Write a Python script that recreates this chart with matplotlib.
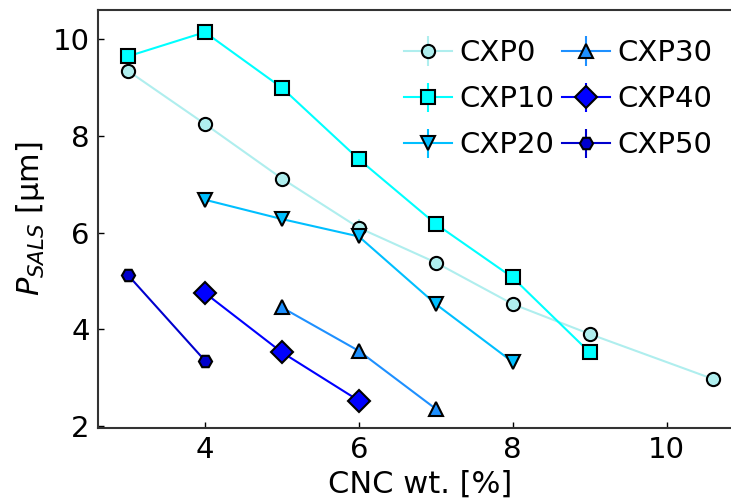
import numpy as np
import matplotlib
matplotlib.use('Agg')
import matplotlib.pyplot as plt

labels = ['CXP0', 'CXP10', 'CXP20', 'CXP30', 'CXP40', 'CXP50']
colors = ['#afeeee', '#00ffff', '#00bfff', '#1e90ff', '#0000ff', '#0000cd']
markers = ['o', 's', 'v', '^', 'D', 'H']

x0 = [3, 4, 5, 6, 7, 8, 9, 10.6]
y0 = [9.35, 8.25, 7.12, 6.1, 5.38, 4.52, 3.9, 2.97]
e0 = [0.05, 0.05, 0.05, 0.18, 0.05, 0.05, 0.05, 0.05]

x10 = [3, 4, 5, 6, 7, 8, 9]
y10 = [9.65, 10.15, 9.0, 7.52, 6.18, 5.07, 3.52]
e10 = [0.05, 0.05, 0.05, 0.05, 0.05, 0.05, 0.05]

x20 = [4, 5, 6, 7, 8]
y20 = [6.68, 6.28, 5.92, 4.52, 3.32]
e20 = [0.05, 0.05, 0.08, 0.05, 0.05]

x30 = [5, 6, 7]
y30 = [4.45, 3.55, 2.35]
e30 = [0.05, 0.05, 0.05]

x40 = [4, 5, 6]
y40 = [4.75, 3.52, 2.52]
e40 = [0.05, 0.05, 0.05]

x50 = [3, 4]
y50 = [5.12, 3.35]
e50 = [0.05, 0.05]

xs = [x0, x10, x20, x30, x40, x50]
ys = [y0, y10, y20, y30, y40, y50]
es = [e0, e10, e20, e30, e40, e50]

fig = plt.figure(figsize=(7.31, 4.99), dpi=100)
# axes run a little past the right edge of the picture, as in the original crop
ax = fig.add_axes([0.134, 0.142, 0.882, 0.838])

for i in range(len(labels)):
    ms = 11 if markers[i] == 'D' else 9.5
    ax.errorbar(xs[i], ys[i], yerr=es[i], color=colors[i], marker=markers[i],
                markersize=ms, markerfacecolor=colors[i], markeredgecolor='black',
                markeredgewidth=1.5, linewidth=1.5, elinewidth=1.5, capsize=0,
                label=labels[i])

ax.set_xlim(2.61, 10.99)
ax.set_ylim(1.95, 10.61)
ax.set_xticks([4, 6, 8, 10])
ax.set_yticks([2, 4, 6, 8, 10])
ax.tick_params(direction='in', length=4, width=1, labelsize=21, pad=6)
for s in ['left', 'bottom', 'top']:
    ax.spines[s].set_linewidth(1.5)
    ax.spines[s].set_color('#333333')
ax.spines['right'].set_visible(False)

ax.set_xlabel('CNC wt. [%]', fontsize=22, labelpad=4)
ax.set_ylabel(r'$P_{SALS}$ [μm]', fontsize=22, labelpad=4)

ax.legend(ncol=2, frameon=False, fontsize=21, loc='upper right',
          bbox_to_anchor=(0.953, 0.93), borderaxespad=0, borderpad=0,
          columnspacing=0.28, handletextpad=0.24, labelspacing=0.62,
          handlelength=1.65)

fig.savefig('out.png', dpi=100)
